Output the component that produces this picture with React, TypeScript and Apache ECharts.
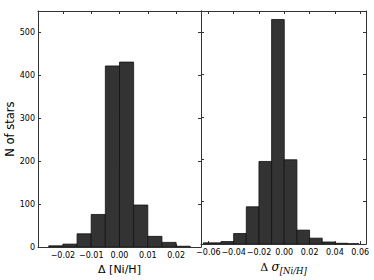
import React, { useEffect, useRef } from "react";
import * as echarts from "echarts";

// Histogram 1: Δ [Ni/H]
const leftEdges = [-0.025, -0.02, -0.015, -0.01, -0.005, 0, 0.005, 0.01, 0.015, 0.02, 0.025];
const leftCounts = [3, 7, 31, 76, 422, 431, 98, 25, 11, 2];
const leftTicks = [-0.02, -0.01, 0, 0.01, 0.02];

// Histogram 2: Δ σ[Ni/H]
const rightEdges = [-0.064, -0.05, -0.04, -0.03, -0.02, -0.01, 0, 0.01, 0.02, 0.03, 0.04, 0.05, 0.059];
const rightCounts = [3, 6, 25, 88, 195, 530, 199, 33, 14, 5, 2, 1];
const rightTicks = [-0.06, -0.04, -0.02, 0, 0.02, 0.04, 0.06];

const yTicks = [0, 100, 200, 300, 400, 500];

function toBins(edges: number[], counts: number[]) {
  return counts.map((c, i) => [edges[i], edges[i + 1], c]);
}

const fmt = (v: number) => {
  if (Math.abs(v) < 1e-9) return "0.00";
  return (v < 0 ? "\u2212" : "") + Math.abs(v).toFixed(2);
};

const SPINE = "#333";
const FONT = "DejaVu Sans";

export default function App() {
  const ref = useRef<HTMLDivElement>(null);
  useEffect(() => {
    const chart = echarts.init(ref.current!, null, { renderer: "svg" });
    const renderItem = (params: any, api: any) => {
      const x0 = api.value(0);
      const x1 = api.value(1);
      const c = api.value(2);
      const p0 = api.coord([x0, c]);
      const p1 = api.coord([x1, 0]);
      return {
        type: "rect",
        shape: { x: p0[0], y: p0[1], width: p1[0] - p0[0], height: p1[1] - p0[1] },
        style: { fill: "#333333", stroke: "#111111", lineWidth: 0.8 },
      };
    };
    const xBase = (min: number, max: number, ticks: number[], pos: string, gridIndex: number, showLabels: boolean, name?: any) => ({
      type: "value",
      gridIndex,
      position: pos,
      min,
      max,
      axisLine: { show: true, onZero: false, lineStyle: { color: SPINE, width: 1 } },
      axisTick: { show: true, inside: true, length: 3, customValues: ticks, lineStyle: { color: SPINE } },
      axisLabel: {
        show: showLabels,
        customValues: ticks,
        formatter: fmt,
        fontFamily: FONT,
        fontSize: 8,
        color: "#000",
        margin: 4,
        hideOverlap: false,
      },
      splitLine: { show: false },
      ...(name || {}),
    });
    const yBase = (pos: string, gridIndex: number, showLabels: boolean, name?: any) => ({
      type: "value",
      gridIndex,
      position: pos,
      min: 0,
      max: 550,
      axisLine: { show: true, onZero: false, lineStyle: { color: SPINE, width: 1 } },
      axisTick: { show: true, inside: true, length: 3, customValues: yTicks, lineStyle: { color: SPINE } },
      axisLabel: {
        show: showLabels,
        customValues: yTicks,
        fontFamily: FONT,
        fontSize: 8,
        color: "#000",
        margin: 3,
      },
      splitLine: { show: false },
      ...(name || {}),
    });
    chart.setOption({
      animation: false,
      grid: [
        { left: 38, top: 11, width: 163, height: 240 },
        { left: 201, top: 11, width: 165, height: 240 },
      ],
      xAxis: [
        xBase(-0.0288, 0.0288, leftTicks, "bottom", 0, true, {
          name: "\u0394 [Ni/H]",
          nameLocation: "middle",
          nameGap: 14,
          nameTextStyle: { fontFamily: FONT, fontSize: 11, color: "#000", verticalAlign: "top" },
        }),
        xBase(-0.0288, 0.0288, leftTicks, "top", 0, false),
        xBase(-0.0658, 0.0646, rightTicks, "bottom", 1, true, {
          name: "{d|\u0394} {s|\u03c3}{sub|[Ni/H]}",
          nameLocation: "middle",
          nameGap: 13,
          nameTextStyle: {
            verticalAlign: "top",
            rich: {
              d: { fontFamily: "DejaVu Serif", fontSize: 11, color: "#000", lineHeight: 16, verticalAlign: "middle" },
              s: { fontFamily: "DejaVu Serif", fontStyle: "italic", fontSize: 12, color: "#000", lineHeight: 16, verticalAlign: "middle" },
              sub: { fontFamily: "DejaVu Serif", fontStyle: "italic", fontSize: 8.5, color: "#000", lineHeight: 8, verticalAlign: "bottom" },
            },
          },
        }),
        xBase(-0.0658, 0.0646, rightTicks, "top", 1, false),
      ],
      yAxis: [
        yBase("left", 0, true, {
          name: "N of stars",
          nameLocation: "middle",
          nameGap: 20,
          nameTextStyle: { fontFamily: FONT, fontSize: 11.5, color: "#000" },
        }),
        yBase("right", 0, false),
        yBase("left", 1, false),
        yBase("right", 1, false),
      ],
      series: [
        {
          type: "custom",
          xAxisIndex: 0,
          yAxisIndex: 0,
          renderItem,
          encode: { x: [0, 1], y: 2 },
          data: toBins(leftEdges, leftCounts),
          clip: true,
        },
        {
          type: "custom",
          xAxisIndex: 2,
          yAxisIndex: 2,
          renderItem,
          encode: { x: [0, 1], y: 2 },
          data: toBins(rightEdges, rightCounts),
          clip: true,
        },
      ],
    });
    return () => chart.dispose();
  }, []);
  return (
    <div
      ref={ref}
      style={{ position: "fixed", left: 0, top: 0, width: 374, height: 280, background: "#fff" }}
    />
  );
}
